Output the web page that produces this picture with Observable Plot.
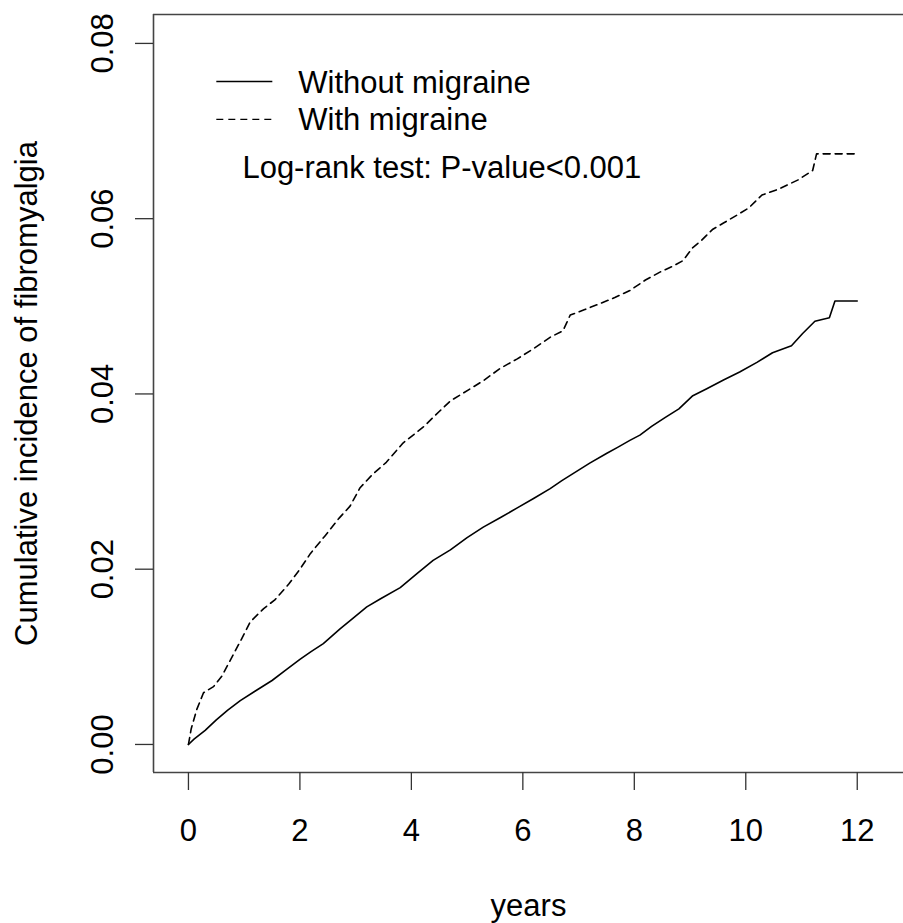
<!DOCTYPE html>
<html><head><meta charset="utf-8">
<script src="https://cdn.jsdelivr.net/npm/d3@7"></script>
<script src="https://cdn.jsdelivr.net/npm/@observablehq/plot@0.6"></script>
<style>
html,body{margin:0;padding:0;background:#fff;overflow:hidden}
svg{display:block}
</style>
</head><body><div id="chart"></div>
<script>
// ---- data ----
const withoutYears  = [0,0.1,0.3,0.5,0.7,0.93,1.2,1.5,1.75,2.0,2.2,2.42,2.72,2.95,3.2,3.44,3.8,4.1,4.39,4.7,5.0,5.29,5.6,5.9,6.2,6.49,6.7,6.9,7.2,7.5,7.7,7.92,8.1,8.31,8.55,8.8,9.05,9.3,9.6,9.89,10.2,10.48,10.82,11.02,11.24,11.5,11.6,12.0];
const withoutValues = [0,0.0006,0.0016,0.0028,0.0039,0.0050,0.0061,0.0073,0.0085,0.0097,0.0106,0.0115,0.0132,0.0144,0.0157,0.0166,0.0179,0.0195,0.0210,0.0222,0.0236,0.0248,0.0259,0.0270,0.0281,0.0292,0.0301,0.0309,0.0321,0.0332,0.0339,0.0347,0.0353,0.0363,0.0373,0.0383,0.0398,0.0406,0.0416,0.0425,0.0436,0.0447,0.0455,0.0469,0.0483,0.0487,0.0506,0.0506];
const withYears  = [0,0.05,0.15,0.27,0.45,0.6,0.75,0.95,1.11,1.35,1.55,1.8,2.0,2.19,2.45,2.7,2.9,3.08,3.3,3.55,3.85,4.21,4.5,4.7,4.93,5.29,5.59,5.9,6.2,6.5,6.72,6.85,7.1,7.38,7.65,7.92,8.2,8.46,8.7,8.87,9.05,9.2,9.41,9.6,9.84,10.05,10.29,10.6,10.93,11.2,11.27,12.0];
const withValues = [0,0.0018,0.0040,0.0059,0.0066,0.0078,0.0096,0.0120,0.0140,0.0155,0.0165,0.0183,0.0200,0.0218,0.0238,0.0258,0.0272,0.0293,0.0308,0.0322,0.0344,0.0362,0.0380,0.0392,0.0401,0.0415,0.0429,0.0440,0.0452,0.0465,0.0472,0.0490,0.0496,0.0503,0.0510,0.0518,0.0530,0.0539,0.0546,0.0552,0.0567,0.0575,0.0588,0.0595,0.0604,0.0612,0.0627,0.0634,0.0644,0.0655,0.0674,0.0674];
const xTicks = [0,2,4,6,8,10,12];
const yTicks = [0,0.02,0.04,0.06,0.08];
const seriesNames = ["Without migraine","With migraine"];
const xTitle = "years";
const yTitle = "Cumulative incidence of fibromyalgia";
const testNote = "Log-rank test: P-value<0.001";

// ---- build tables ----
const withoutRows = withoutYears.map((t,i)=>({t, v: withoutValues[i]}));
const withRows = withYears.map((t,i)=>({t, v: withValues[i]}));

const FONT = "'Liberation Sans', Arial, Helvetica, sans-serif";
const FS = 31;
const DASH = "7,5";
const xDom = [-0.627, 12.83];
const yDom = [-0.0032, 0.0833];

// legend placement (data coordinates, like R's legend())
const legSolid  = [{name: seriesNames[0], x1: 0.50, x2: 1.505, y: 0.07566, ty: 0.07429}];
const legDashed = [{name: seriesNames[1], x1: 0.50, x2: 1.505, y: 0.07133, ty: 0.07007}];

const chart = Plot.plot({
  width: 903,
  height: 923,
  marginLeft: 153,
  marginRight: 0,
  marginTop: 14,
  marginBottom: 151,
  style: {fontFamily: FONT, fontSize: FS + "px", background: "#fff", color: "#000"},
  x: {domain: xDom, ticks: xTicks},
  y: {domain: yDom, ticks: yTicks},
  marks: [
    // plot box (right side lies beyond the picture)
    Plot.ruleX([xDom[0]], {stroke: "#444", strokeWidth: 1.6}),
    Plot.ruleY([yDom[0], yDom[1]], {stroke: "#444", strokeWidth: 1.6}),
    Plot.axisX({ticks: xTicks, tickSize: 18, tickPadding: 28, fontSize: FS, stroke: "#333", strokeWidth: 1.3, label: null}),
    Plot.axisY({ticks: yTicks, tickSize: 18, tickPadding: 23, tickRotate: -90, fontSize: FS, tickFormat: d3.format(".2f"), stroke: "#333", strokeWidth: 1.3, label: null}),
    Plot.text([xTitle], {text: d => d, frameAnchor: "bottom", lineAnchor: "bottom", dy: 143, fontSize: FS, fill: "#000"}),
    Plot.text([yTitle], {text: d => d, frameAnchor: "left", rotate: -90, textAnchor: "middle", lineAnchor: "bottom", dx: -117, fontSize: FS, fill: "#000"}),
    // curves
    Plot.line(withoutRows, {x: "t", y: "v", stroke: "#000", strokeWidth: 1.6}),
    Plot.line(withRows, {x: "t", y: "v", stroke: "#000", strokeWidth: 1.6, strokeDasharray: DASH}),
    // legend
    Plot.link(legSolid, {x1: "x1", x2: "x2", y1: "y", y2: "y", stroke: "#000", strokeWidth: 1.4}),
    Plot.link(legDashed, {x1: "x1", x2: "x2", y1: "y", y2: "y", stroke: "#000", strokeWidth: 1.4, strokeDasharray: DASH}),
    Plot.text(legSolid.concat(legDashed), {x: 1.97, y: "ty", text: "name", textAnchor: "start", lineAnchor: "bottom", fontSize: FS, fill: "#000"}),
    Plot.text([testNote], {x: 0.968, y: 0.06459, text: d => d, textAnchor: "start", lineAnchor: "bottom", fontSize: FS, fill: "#000"})
  ]
});
document.getElementById("chart").appendChild(chart);
</script>
</body></html>
